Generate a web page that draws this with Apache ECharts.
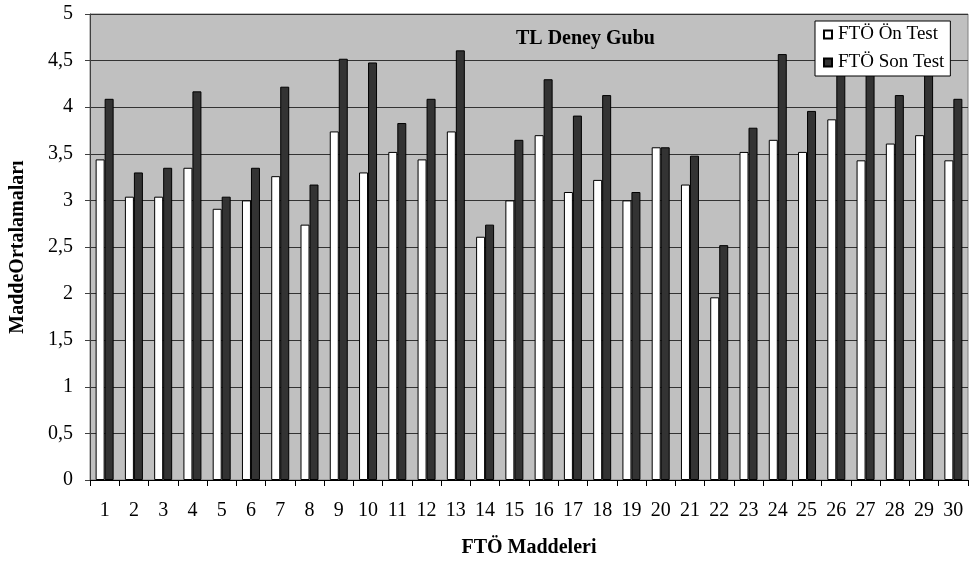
<!DOCTYPE html>
<html>
<head>
<meta charset="utf-8">
<script src="https://cdn.jsdelivr.net/npm/echarts@6/dist/echarts.min.js"></script>
<style>
  html, body { margin: 0; padding: 0; background: #fff; }
  #chart { width: 970px; height: 563px; }
</style>
</head>
<body>
<div id="chart"></div>
<script>
// Item numbers of the scale (1..30)
const items = ['1','2','3','4','5','6','7','8','9','10','11','12','13','14','15',
               '16','17','18','19','20','21','22','23','24','25','26','27','28','29','30'];

// Item means, pre-test
const onTest = [3.44, 3.04, 3.04, 3.35, 2.91, 3.00, 3.26, 2.74, 3.74, 3.30,
                3.52, 3.44, 3.74, 2.61, 3.00, 3.70, 3.09, 3.22, 3.00, 3.57,
                3.17, 1.96, 3.52, 3.65, 3.52, 3.87, 3.43, 3.61, 3.70, 3.43];

// Item means, post-test
const sonTest = [4.09, 3.30, 3.35, 4.17, 3.04, 3.35, 4.22, 3.17, 4.52, 4.48,
                 3.83, 4.09, 4.61, 2.74, 3.65, 4.30, 3.91, 4.13, 3.09, 3.57,
                 3.48, 2.52, 3.78, 4.57, 3.96, 4.43, 4.39, 4.13, 4.39, 4.09];

const serif = 'Liberation Serif, Times New Roman, serif';

const chart = echarts.init(document.getElementById('chart'), null, { renderer: 'canvas' });

chart.setOption({
  animation: false,
  backgroundColor: '#ffffff',
  title: {
    text: 'TL Deney Gubu',
    left: 511,
    top: 24,
    textStyle: { fontFamily: serif, fontWeight: 'bold', fontSize: 20, color: '#000' }
  },
  legend: {
    orient: 'vertical',
    left: 815,
    top: 21,
    padding: [4, 6, 4, 8],
    itemGap: 9,
    itemWidth: 8,
    itemHeight: 8,
    backgroundColor: '#ffffff',
    borderColor: '#000000',
    borderWidth: 1,
    textStyle: { fontFamily: serif, fontSize: 19, lineHeight: 19, color: '#000', padding: [0, 0, 0, 1] },
    data: [
      { name: 'FTÖ Ön Test', icon: 'rect' },
      { name: 'FTÖ Son Test', icon: 'rect' }
    ]
  },
  grid: {
    left: 88,
    right: 2,
    top: 14,
    bottom: 82,
    show: true,
    backgroundColor: '#c0c0c0',
    borderColor: '#808080',
    borderWidth: 1
  },
  xAxis: {
    type: 'category',
    data: items,
    name: 'FTÖ Maddeleri',
    nameLocation: 'middle',
    nameGap: 58,
    nameTextStyle: { fontFamily: serif, fontWeight: 'bold', fontSize: 20, color: '#000' },
    axisLine: { lineStyle: { color: '#000', width: 1 } },
    axisTick: { show: true, length: 6, lineStyle: { color: '#000' } },
    axisLabel: { fontFamily: serif, fontSize: 20, color: '#000', margin: 21, interval: 0 }
  },
  yAxis: {
    type: 'value',
    min: 0,
    max: 5,
    interval: 0.5,
    name: 'MaddeOrtalamaları',
    nameLocation: 'middle',
    nameGap: 62,
    nameTextStyle: { fontFamily: serif, fontWeight: 'bold', fontSize: 20, color: '#000' },
    axisLine: { show: true, lineStyle: { color: '#404040', width: 1 } },
    axisTick: { show: true, length: 5, lineStyle: { color: '#404040' } },
    axisLabel: {
      fontFamily: serif, fontSize: 20, color: '#000', margin: 17,
      formatter: v => String(v).replace('.', ',')
    },
    splitLine: { show: true, lineStyle: { color: '#333333', width: 1 } }
  },
  series: [
    {
      name: 'FTÖ Ön Test',
      type: 'bar',
      data: onTest,
      barWidth: 9,
      barGap: '0%',
      itemStyle: { color: '#ffffff', borderColor: '#000000', borderWidth: 1 }
    },
    {
      name: 'FTÖ Son Test',
      type: 'bar',
      data: sonTest,
      barWidth: 9,
      barGap: '0%',
      itemStyle: { color: '#333333', borderColor: '#000000', borderWidth: 1 }
    }
  ]
});
</script>
</body>
</html>
